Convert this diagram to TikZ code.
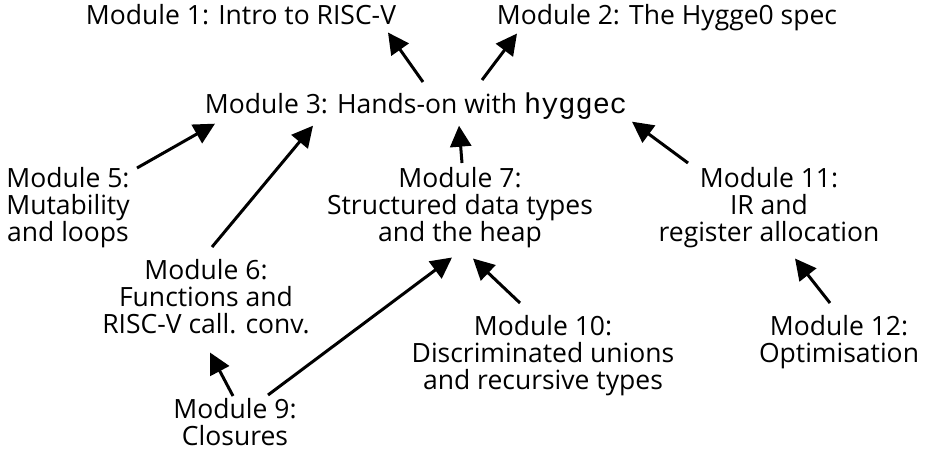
\documentclass[tikz,border=0pt]{standalone}
\usepackage{fontspec}
\setmainfont{Open Sans}
\setmonofont[Scale=1.08]{Liberation Mono}
\usetikzlibrary{arrows.meta}
\begin{document}
\begin{tikzpicture}
[x=1pt,y=1pt,line width=3pt,
 module/.style={anchor=north,inner sep=0pt,align=center,font=\fontsize{26.5}{27}\selectfont},
 dep/.style={-{Triangle[length=21pt,width=21pt]}}]
  \useasboundingbox (0,0) rectangle (925,451);

  \node[module] (m1) at (241,448) {Module 1: Intro to RISC-V};
  \node[module] (m2) at (667,448) {Module 2: The Hygge0 spec};
  \node[module] (m3) at (416,360) {Module 3: Hands-on with \texttt{hyggec}};
  \node[module] (m5) at (68,285) {Module 5:\\Mutability\\and loops};
  \node[module] (m7) at (460,285) {Module 7:\\Structured data types\\and the heap};
  \node[module] (m11) at (769,285) {Module 11:\\IR and\\register allocation};
  \node[module] (m6) at (206,193) {Module 6:\\Functions and\\RISC-V call. conv.};
  \node[module] (m10) at (543,137) {Module 10:\\Discriminated unions\\and recursive types};
  \node[module] (m12) at (839,137) {Module 12:\\Optimisation};
  \node[module] (m9) at (235,54) {Module 9:\\Closures};

  \draw[dep] ([shift={(7,9)}]m3.north) -- ([shift={(147,-6)}]m1.south);
  \draw[dep] ([shift={(66,11)}]m3.north) -- ([shift={(-150,-1)}]m2.south);
  \draw[dep] ([shift={(69,-2)}]m5.north) -- ([shift={(-201,-3)}]m3.south);
  \draw[dep] ([shift={(6,11)}]m6.north) -- ([shift={(-103,-5)}]m3.south);
  \draw[dep] ([shift={(2,3)}]m7.north) -- ([shift={(43,-5)}]m3.south);
  \draw[dep] ([shift={(-81,3)}]m11.north) -- ([shift={(216,-1)}]m3.south);
  \draw[dep] ([shift={(33,2)}]m9.north) -- ([shift={(-8,-8)}]m7.south);
  \draw[dep] ([shift={(-2,1)}]m9.north) -- ([shift={(4,-17)}]m6.south);
  \draw[dep] ([shift={(-23,11)}]m10.north) -- ([shift={(13,-9)}]m7.south);
  \draw[dep] ([shift={(-9,11)}]m12.north) -- ([shift={(26,-9)}]m11.south);
\end{tikzpicture}
\end{document}
